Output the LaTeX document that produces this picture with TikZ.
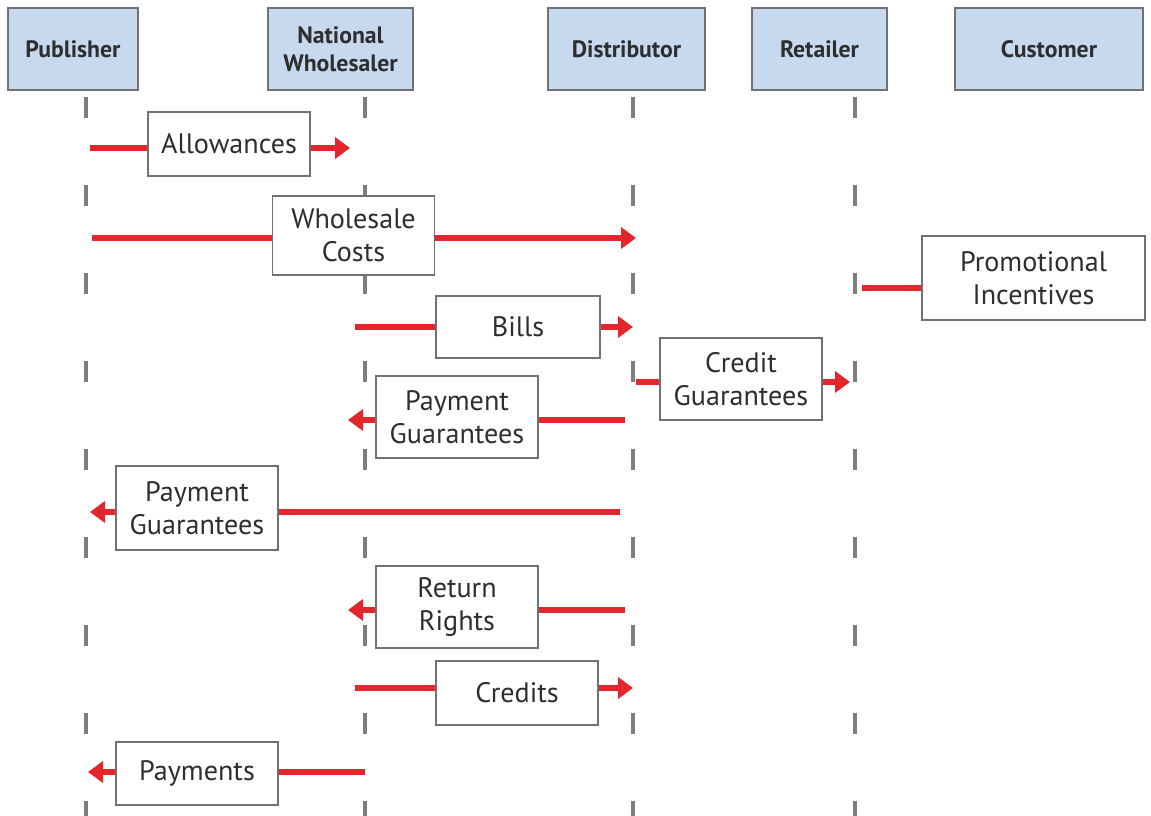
\documentclass[tikz,border=0pt]{standalone}
\usepackage{fontspec}
\setmainfont{PT Sans}
\usetikzlibrary{arrows.meta,backgrounds}
\definecolor{actorBlue}{HTML}{C6D9EF}
\definecolor{frameGray}{HTML}{6F7175}
\definecolor{lineGray}{HTML}{7E7E7E}
\definecolor{inkGray}{HTML}{2E2E2E}
\definecolor{flowRed}{HTML}{E2262B}
\tikzset{
  actor/.style={rectangle, draw=frameGray, line width=1.2pt, fill=actorBlue,
    minimum height=1.64cm, align=center, text=inkGray,
    font=\fontsize{13.5}{16}\selectfont\bfseries},
  flowLabel/.style={rectangle, draw=frameGray, line width=0.8pt, fill=white,
    minimum width=3.24cm, align=center, text=inkGray,
    font=\fontsize{16}{19}\selectfont},
  lifeLine/.style={lineGray, line width=2.6pt, dash pattern=on 0.42cm off 1.34cm},
  flowArrow/.style={-{Triangle[length=3mm,width=4.2mm]}, line width=3.2pt, flowRed},
  flowLine/.style={-, line width=3.2pt, flowRed},
}

\begin{document}
\begin{tikzpicture}
    \useasboundingbox (0,0) rectangle (23.02,-16.32);
    % actors
    \node[actor, minimum width=2.6cm]  (pub) at (1.46,-0.98)  {Publisher};
    \node[actor, minimum width=2.9cm]  (nw)  at (6.81,-0.98)  {National\\Wholesaler};
    \node[actor, minimum width=3.14cm] (dis) at (12.53,-0.98) {Distributor};
    \node[actor, minimum width=2.7cm]  (ret) at (16.39,-0.98) {Retailer};
    \node[actor, minimum width=3.76cm] (cus) at (20.98,-0.98) {Customer};

    % lifeline ends
    \coordinate (pubTop) at (1.72,-1.94);  \coordinate (pubEnd) at (1.72,-16.32);
    \coordinate (nwTop)  at (7.30,-1.94);  \coordinate (nwEnd)  at (7.30,-16.32);
    \coordinate (disTop) at (12.66,-1.94); \coordinate (disEnd) at (12.66,-16.32);
    \coordinate (retTop) at (17.10,-1.94); \coordinate (retEnd) at (17.10,-16.32);

    % messages
    \node[flowLabel, minimum height=1.28cm] (allow)  at (4.58,-2.88)  {Allowances};
    \node[flowLabel, minimum height=1.58cm] (whole)  at (7.07,-4.71)  {Wholesale\\Costs};
    \node[flowLabel, minimum width=4.46cm, minimum height=1.68cm] (promo) at (20.67,-5.56) {Promotional\\Incentives};
    \node[flowLabel, minimum width=3.28cm, minimum height=1.24cm] (bills) at (10.36,-6.54) {Bills};
    \node[flowLabel, minimum height=1.64cm] (credG)  at (14.82,-7.58)  {Credit\\Guarantees};
    \node[flowLabel, minimum height=1.64cm] (payGa)  at (9.14,-8.34)   {Payment\\Guarantees};
    \node[flowLabel, minimum height=1.68cm] (payGb)  at (3.94,-10.16)  {Payment\\Guarantees};
    \node[flowLabel, minimum height=1.64cm] (retR)   at (9.14,-12.14)  {Return\\Rights};
    \node[flowLabel, minimum height=1.28cm] (creds)  at (10.34,-13.86) {Credits};
    \node[flowLabel, minimum height=1.26cm] (pays)   at (3.94,-15.47)  {Payments};

    % arrow ends
    \coordinate (allowA) at (1.80,-2.96);  \coordinate (allowB) at (7.00,-2.96);
    \coordinate (wholeA) at (1.84,-4.76);  \coordinate (wholeB) at (12.72,-4.76);
    \coordinate (promoA) at (17.24,-5.76);
    \coordinate (billsA) at (7.10,-6.54);  \coordinate (billsB) at (12.66,-6.54);
    \coordinate (credGA) at (12.72,-7.64); \coordinate (credGB) at (17.00,-7.64);
    \coordinate (payGaA) at (12.50,-8.40); \coordinate (payGaB) at (6.96,-8.40);
    \coordinate (payGbA) at (12.40,-10.24); \coordinate (payGbB) at (1.80,-10.24);
    \coordinate (retRA)  at (12.50,-12.20); \coordinate (retRB)  at (6.96,-12.20);
    \coordinate (credsA) at (7.10,-13.76); \coordinate (credsB) at (12.66,-13.76);
    \coordinate (paysA)  at (7.30,-15.44); \coordinate (paysB)  at (1.76,-15.44);

    \begin{scope}[on background layer]
      \draw[lifeLine] (pubTop) -- (pubEnd);
      \draw[lifeLine] (nwTop) -- (nwEnd);
      \draw[lifeLine] (disTop) -- (disEnd);
      \draw[lifeLine] (retTop) -- (retEnd);

      \draw[flowArrow] (allowA) -- (allowB);
      \draw[flowArrow] (wholeA) -- (wholeB);
      \draw[flowLine]  (promoA) -- (promoA -| promo.west);
      \draw[flowArrow] (billsA) -- (billsB);
      \draw[flowArrow] (credGA) -- (credGB);
      \draw[flowArrow] (payGaA) -- (payGaB);
      \draw[flowArrow] (payGbA) -- (payGbB);
      \draw[flowArrow] (retRA) -- (retRB);
      \draw[flowArrow] (credsA) -- (credsB);
      \draw[flowArrow] (paysA) -- (paysB);
    \end{scope}
\end{tikzpicture}
\end{document}
